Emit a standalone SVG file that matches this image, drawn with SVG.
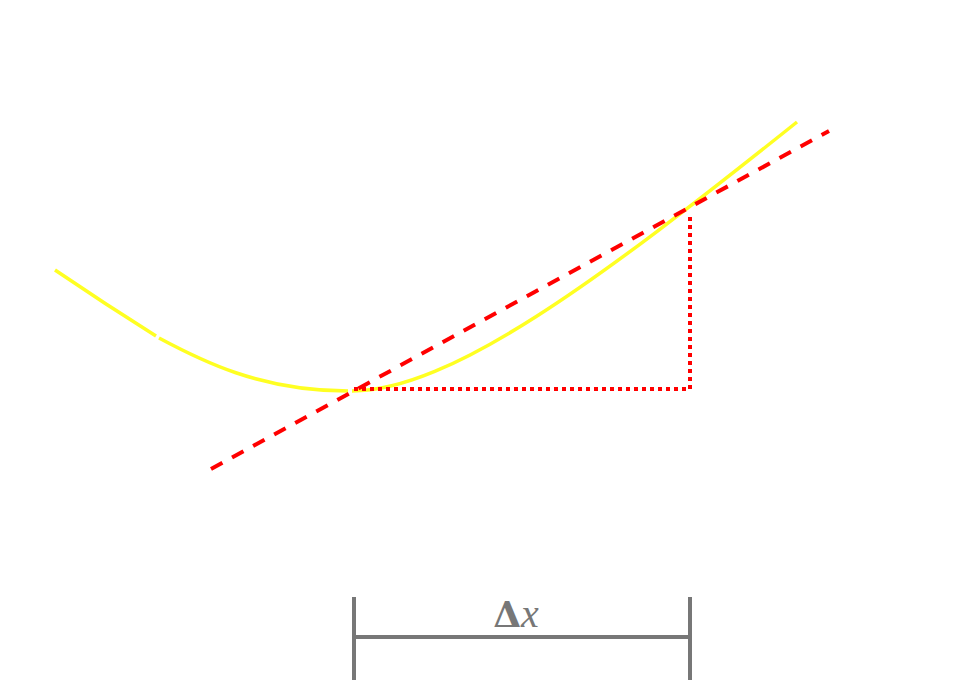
<svg xmlns="http://www.w3.org/2000/svg" width="964" height="680" viewBox="0 0 964 680">
<style>
.curve{fill:none;stroke:#ffff22;stroke-width:3.5;stroke-linecap:butt}
.dash{fill:none;stroke:#ff0000;stroke-width:4;stroke-dasharray:13 11}
.dot{fill:none;stroke:#ff0000;stroke-width:4;stroke-dasharray:4 4}
.gray{fill:none;stroke:#777777;stroke-width:4}
.lbl{font-family:"Liberation Serif","DejaVu Serif",serif;font-size:40px;fill:#777777}
.delta{font-family:"DejaVu Serif","Liberation Serif",serif;font-size:36px;font-style:normal;font-weight:bold}
</style>
<rect width="964" height="680" fill="#ffffff"/>
<g id="curve">
<path class="curve" d="M55,270 Q105,304 156,336"/>
<path class="curve" d="M159,338 C200,360 260,391 348,391"/>
<path class="curve" d="M352,391 C450,391 597,282 797,122"/>
</g>
<g id="connectors">
<line class="dash" x1="211" y1="469" x2="829" y2="131"/>
<polyline class="dot" points="354,389 690,389 690,213"/>
</g>
<g id="bracket">
<line class="gray" x1="354" y1="597" x2="354" y2="680"/>
<line class="gray" x1="690" y1="597" x2="690" y2="680"/>
<line class="gray" x1="354" y1="637" x2="690" y2="637"/>
<text class="lbl" x="516" y="627" text-anchor="middle"><tspan class="delta">Δ</tspan><tspan font-style="italic">x</tspan></text>
</g>
</svg>
